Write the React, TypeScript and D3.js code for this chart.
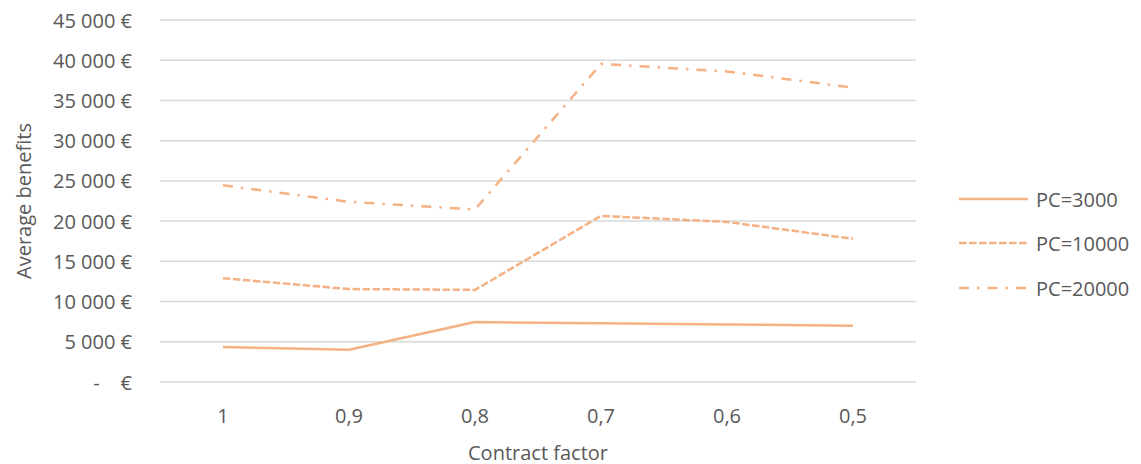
import React from "react";
import * as d3 from "d3";

const categories = ["1", "0,9", "0,8", "0,7", "0,6", "0,5"];
const pc3000 = [4350, 4000, 7450, 7300, 7150, 7000];
const pc10000 = [12900, 11550, 11450, 20650, 19900, 17800];
const pc20000 = [24450, 22400, 21450, 39550, 38600, 36600];
const seriesNames = ["PC=3000", "PC=10000", "PC=20000"];
const yTicks = [0, 5000, 10000, 15000, 20000, 25000, 30000, 35000, 40000, 45000];

const W = 1141;
const H = 464;
const COLOR = "#F4B183";
const TEXT = "#595959";
const FONT = "'Open Sans', sans-serif";
const dashes = ["none", "7.5 2.5", "10 8 2.5 8"];

export default function App() {
  const x = d3.scalePoint<string>().domain(categories).range([160, 916]).padding(0.5);
  const y = d3.scaleLinear().domain([0, 45000]).range([382, 20]);
  const line = d3
    .line<number>()
    .x((_, i) => x(categories[i]) as number)
    .y((d) => y(d));
  const series = [pc3000, pc10000, pc20000];
  const fmt = (v: number) => (v === 0 ? "-    €" : d3.format(",")(v).replace(/,/g, " ") + " €");
  const legendY = [199, 243, 288];

  return (
    <svg
      width={W}
      height={H}
      style={{ position: "absolute", left: 0, top: 0, display: "block", background: "#fff" }}
      fontFamily={FONT}
    >
      {yTicks.map((t) => (
        <g key={t}>
          <line x1={160} x2={916} y1={y(t)} y2={y(t)} stroke="#D9D9D9" strokeWidth={1.5} />
          <text
            x={132}
            y={y(t)}
            textAnchor="end"
            dominantBaseline="central"
            fontSize={20}
            fill={TEXT}
            style={{ whiteSpace: "pre" }}
          >
            {fmt(t)}
          </text>
        </g>
      ))}
      {categories.map((c) => (
        <text key={c} x={x(c)} y={415} textAnchor="middle" dominantBaseline="central" fontSize={20} fill={TEXT}>
          {c}
        </text>
      ))}
      <text x={538} y={452} textAnchor="middle" dominantBaseline="central" fontSize={20} fill={TEXT}>
        Contract factor
      </text>
      <text
        transform="translate(23,201) rotate(-90)"
        textAnchor="middle"
        dominantBaseline="central"
        fontSize={20}
        fill={TEXT}
      >
        Average benefits
      </text>
      {series.map((s, i) => (
        <path
          key={i}
          d={line(s) || ""}
          fill="none"
          stroke={COLOR}
          strokeWidth={2.5}
          strokeDasharray={dashes[i]}
          strokeLinejoin="round"
        />
      ))}
      {seriesNames.map((n, i) => (
        <g key={n}>
          <line
            x1={959}
            x2={1028}
            y1={legendY[i]}
            y2={legendY[i]}
            stroke={COLOR}
            strokeWidth={2.5}
            strokeDasharray={dashes[i]}
          />
          <text x={1036} y={legendY[i]} dominantBaseline="central" fontSize={20} fill={TEXT}>
            {n}
          </text>
        </g>
      ))}
    </svg>
  );
}
